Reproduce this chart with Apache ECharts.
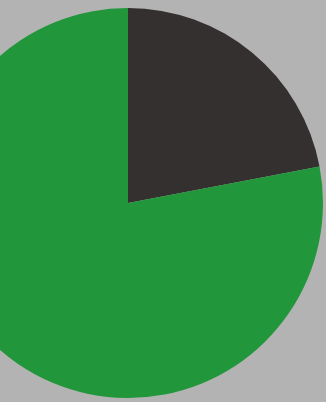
<!DOCTYPE html>
<html>
<head>
<meta charset="utf-8">
<script src="https://cdn.jsdelivr.net/npm/echarts@6/dist/echarts.min.js"></script>
<style>
  html, body { margin: 0; padding: 0; background: #b3b3b3; }
  #chart { width: 326px; height: 402px; }
</style>
</head>
<body>
<div id="chart"></div>
<script>
// slice names and shares (percent)
const sliceNames = ['Dark', 'Green']
const sliceValues = [22, 78]
const sliceColors = ['#33302f', '#22963a']

const myChart = echarts.init(document.getElementById('chart'))
const option = {
  backgroundColor: '#b3b3b3',
  animation: false,
  series: [
    {
      type: 'pie',
      center: [128, 203],
      radius: 195,
      startAngle: 90,
      clockwise: true,
      label: { show: false },
      labelLine: { show: false },
      itemStyle: { borderWidth: 0 },
      emphasis: { disabled: true },
      data: sliceNames.map((n, i) => ({
        name: n,
        value: sliceValues[i],
        itemStyle: { color: sliceColors[i] }
      }))
    }
  ]
}
myChart.setOption(option)
</script>
</body>
</html>
